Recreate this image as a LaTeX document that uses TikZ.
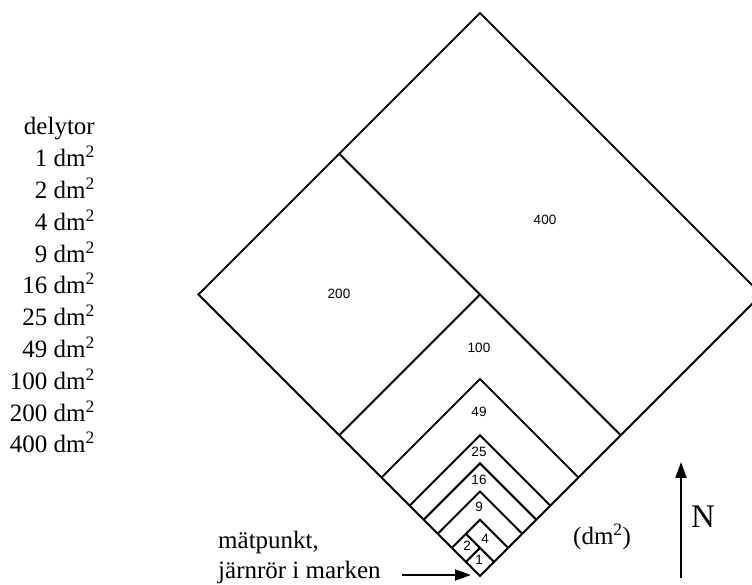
\documentclass[tikz,border=0pt]{standalone}
\usepackage{fontspec}
\setmainfont{Liberation Serif}
\newfontfamily\arialf{Liberation Sans}
\usetikzlibrary{arrows.meta}
\begin{document}
\begin{tikzpicture}[x=1pt,y=1pt,
  plotline/.style={line width=2pt, line join=miter},
  arealab/.style={font=\arialf\fontsize{13.5}{15}\selectfont, inner sep=0pt},
  txt/.style={font=\fontsize{25}{30}\selectfont, inner sep=0pt},
  bigtxt/.style={font=\fontsize{33}{38}\selectfont, inner sep=0pt},
  pointer/.style={line width=2pt, -{Triangle[length=16pt,width=11pt]}},
  ]
\useasboundingbox (0,0) rectangle (752,585);
\clip (0,0) rectangle (752,585);
% nested plots, u axis up-right, v axis up-left
\begin{scope}[shift={(480,9)}, x={(14.075pt,14.075pt)}, y={(-14.075pt,14.075pt)}, plotline]
  \coordinate (mp) at (0,0);
  \draw (0,0) -- (20,0) -- (20,20) -- (0,20) -- cycle;
  \draw (10,0) -- (10,20);
  \draw (0,10) -- (10,10);
  \foreach \n in {7,5,4,3,2} {
    \draw (\n,0) -- (\n,\n) -- (0,\n);
  }
  \draw (1,0) -- (1,2);
  \draw (0,1) -- (1,1);
\end{scope}
% area labels
\node[arealab] (a1)   at (479,25)  {1};
\node[arealab] (a2)   at (467,39)  {2};
\node[arealab] (a4)   at (485,46)  {4};
\node[arealab] (a9)   at (479,78)  {9};
\node[arealab] (a16)  at (479,105) {16};
\node[arealab] (a25)  at (479,133) {25};
\node[arealab] (a49)  at (479,173) {49};
\node[arealab] (a100) at (479,237) {100};
\node[arealab] (a200) at (339,291) {200};
\node[arealab] (a400) at (545,365) {400};
% legend
\node[txt, anchor=base east] (l0) at (95,450) {delytor};
\foreach \v [count=\i] in {1,2,4,9,16,25,49,100,200,400} {
  \node[txt, anchor=base east] (l\i) at (95,450-31.8*\i) {\v\ dm\textsuperscript{2}};
}
% bottom texts
\node[txt, anchor=base west] (mt1) at (218,36) {mätpunkt,};
\node[txt, anchor=base west] (mt2) at (218,6) {järnrör i marken};
\coordinate (arrs) at (402,10);
\draw[pointer] (arrs) -- ([xshift=-9pt,yshift=1pt]mp);
\node[txt, anchor=base west] (unit) at (573,40) {(dm\textsuperscript{2})};
% north arrow
\coordinate (ns) at (681,7);
\coordinate (ne) at (681,123);
\draw[pointer] (ns) -- (ne);
\node[bigtxt, anchor=base west] (north) at (691,57) {N};
\end{tikzpicture}
\end{document}
